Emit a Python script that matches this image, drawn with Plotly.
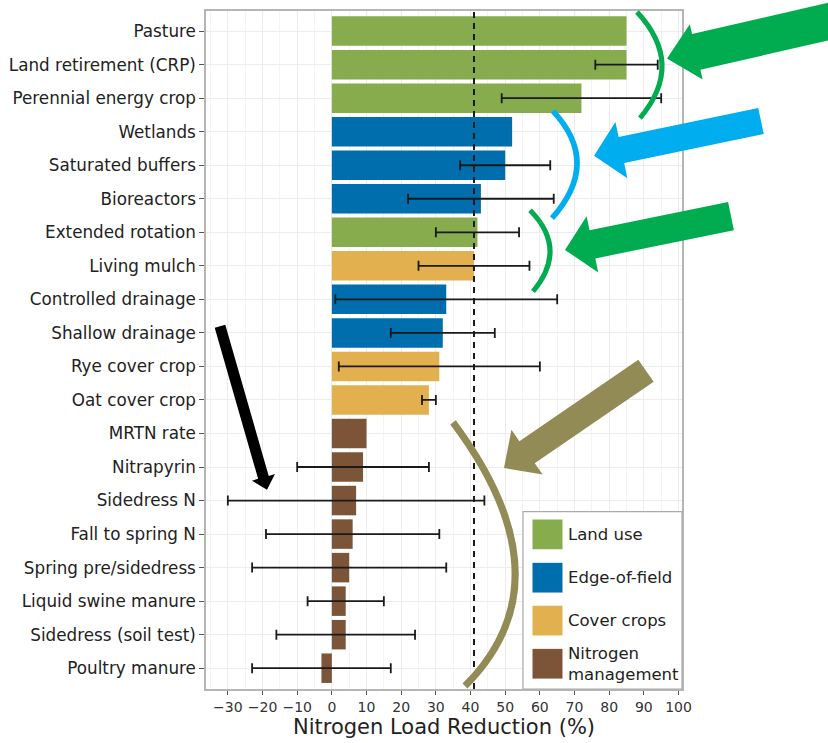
import plotly.graph_objects as go
import math

# ---------------- data ----------------
categories = ["Pasture", "Land retirement (CRP)", "Perennial energy crop", "Wetlands",
              "Saturated buffers", "Bioreactors", "Extended rotation", "Living mulch",
              "Controlled drainage", "Shallow drainage", "Rye cover crop", "Oat cover crop",
              "MRTN rate", "Nitrapyrin", "Sidedress N", "Fall to spring N",
              "Spring pre/sidedress", "Liquid swine manure", "Sidedress (soil test)",
              "Poultry manure"]
values = [85, 85, 72, 52, 50, 43, 42, 41, 33, 32, 31, 28, 10, 9, 7, 6, 5, 4, 4, -3]
err_low = [None, 76, 49, None, 37, 22, 30, 25, 1, 17, 2, 26, None, -10, -30, -19, -23, -7, -16, -23]
err_high = [None, 94, 95, None, 63, 64, 54, 57, 65, 47, 60, 30, None, 28, 44, 31, 33, 15, 24, 17]
groups = ["Land use", "Land use", "Land use", "Edge-of-field", "Edge-of-field", "Edge-of-field",
          "Land use", "Cover crops", "Edge-of-field", "Edge-of-field", "Cover crops", "Cover crops",
          "Nitrogen management", "Nitrogen management", "Nitrogen management", "Nitrogen management",
          "Nitrogen management", "Nitrogen management", "Nitrogen management", "Nitrogen management"]
legend_labels = ["Land use", "Edge-of-field", "Cover crops", "Nitrogen<br>management"]
group_names = ["Land use", "Edge-of-field", "Cover crops", "Nitrogen management"]
target = 41
x_ticks = list(range(-30, 101, 10))

colors = {"Land use": "#86AC4D", "Edge-of-field": "#006EAC",
          "Cover crops": "#E2B04F", "Nitrogen management": "#7C5538"}

FONT = "DejaVu Sans"

fig = go.Figure()
fig.add_trace(go.Bar(
    y=categories, x=values, orientation="h",
    marker=dict(color=[colors[g] for g in groups], line=dict(width=0)),
    showlegend=False, hoverinfo="x+y"))

# error bars only where a range exists
idx = [i for i in range(len(categories)) if err_low[i] is not None]
fig.add_trace(go.Scatter(
    y=[categories[i] for i in idx], x=[values[i] for i in idx], mode="markers",
    marker=dict(size=1, opacity=0),
    error_x=dict(type="data", symmetric=False,
                 array=[err_high[i] - values[i] for i in idx],
                 arrayminus=[values[i] - err_low[i] for i in idx],
                 color="#1a1a1a", thickness=1.8, width=5),
    showlegend=False, hoverinfo="skip"))

W, H = 828, 743
L, R, T, B = 206, 146, 9, 50
pw, ph = W - L - R, H - T - B

def P(X, Y):
    return ((X - L) / pw, 1 - (Y - T) / ph)

def path_from(pts, close=True):
    s = ""
    for i, (X, Y) in enumerate(pts):
        px, py = P(X, Y)
        s += ("M" if i == 0 else "L") + f"{px:.5f},{py:.5f} "
    return s + ("Z" if close else "")

def arrow(tip, tail, shaft_w, head_w, head_l, color):
    dx, dy = tail[0] - tip[0], tail[1] - tip[1]
    n = math.hypot(dx, dy)
    ux, uy = dx / n, dy / n
    nx, ny = -uy, ux
    bx, by = tip[0] + ux * head_l, tip[1] + uy * head_l
    pts = [tip,
           (bx + nx * head_w / 2, by + ny * head_w / 2),
           (bx + nx * shaft_w / 2, by + ny * shaft_w / 2),
           (tail[0] + nx * shaft_w / 2, tail[1] + ny * shaft_w / 2),
           (tail[0] - nx * shaft_w / 2, tail[1] - ny * shaft_w / 2),
           (bx - nx * shaft_w / 2, by - ny * shaft_w / 2),
           (bx - nx * head_w / 2, by - ny * head_w / 2)]
    return dict(type="path", xref="paper", yref="paper", path=path_from(pts),
                fillcolor=color, line=dict(width=0), layer="above")

def arc(s, m, e, color, width):
    cx, cy = 2 * m[0] - (s[0] + e[0]) / 2, 2 * m[1] - (s[1] + e[1]) / 2
    a, b, c = P(*s), P(cx, cy), P(*e)
    p = f"M{a[0]:.5f},{a[1]:.5f} Q{b[0]:.5f},{b[1]:.5f} {c[0]:.5f},{c[1]:.5f}"
    return dict(type="path", xref="paper", yref="paper", path=p,
                line=dict(color=color, width=width), layer="above")

GREEN, BLUE, OLIVE = "#00AC4F", "#00AEEF", "#938B55"

shapes = [
    dict(type="line", xref="x", yref="paper", x0=target, x1=target, y0=0, y1=1,
         line=dict(color="#1a1a1a", width=2, dash="6px,5px"), layer="above"),
    arc((637, 10), (662, 63), (640, 117), GREEN, 5),
    arc((553, 110), (577, 163), (552, 218), BLUE, 5.5),
    arc((530, 210), (550, 250), (533, 292), GREEN, 5),
    arc((453, 424), (515, 570), (465, 690), OLIVE, 7),
    arrow((667, 57), (870, 10), 37, 57, 30, GREEN),
    arrow((594, 155), (761, 120), 27, 58, 28, BLUE),
    arrow((565, 250), (731, 216), 29, 58, 28, GREEN),
    arrow((504, 470), (646, 372), 27, 55, 28, OLIVE),
    arrow((267, 492), (220, 327), 11, 24, 13, "#000000"),
]

# manual legend
lx0, lx1, ly0, ly1 = 523, 682, 514, 693
a0, a1 = P(lx0, ly1), P(lx1, ly0)
shapes.append(dict(type="rect", xref="paper", yref="paper", x0=a0[0], y0=a0[1],
                   x1=a1[0], y1=a1[1], fillcolor="white",
                   line=dict(color="#aaaaaa", width=1.2), layer="above"))
annotations = []
row_y = [537, 580.7, 624, 667.5]
for name, lab, yc in zip(group_names, legend_labels, row_y):
    s0, s1 = P(532.5, yc + 15), P(562.5, yc - 15)
    shapes.append(dict(type="rect", xref="paper", yref="paper", x0=s0[0], y0=s0[1],
                       x1=s1[0], y1=s1[1], fillcolor=colors[name],
                       line=dict(width=0), layer="above"))
    tx, ty = P(566, yc)
    annotations.append(dict(xref="paper", yref="paper", x=tx, y=ty, text=lab,
                            showarrow=False, xanchor="left", yanchor="middle", align="left",
                            font=dict(size=16.5, color="#222222", family=FONT)))

fig.update_layout(
    width=W, height=H, margin=dict(l=L, r=R, t=T, b=B),
    paper_bgcolor="white", plot_bgcolor="white",
    bargap=0.12, showlegend=False,
    font=dict(family=FONT, color="#222222", size=14),
    shapes=shapes, annotations=annotations,
    xaxis=dict(range=[-36.3, 101], tickvals=x_ticks, ticks="outside", ticklen=4,
               tickcolor="#555555", tickfont=dict(size=14, color="#333333"),
               showgrid=True, gridcolor="#ececec", gridwidth=1,
               minor=dict(dtick=5, tick0=0, showgrid=True, gridcolor="#f3f3f3"),
               zeroline=False, showline=True, mirror=True, linecolor="#b5b5b5", linewidth=1.5,
               title=dict(text="Nitrogen Load Reduction (%)", font=dict(size=21, color="#222222"),
                          standoff=5)),
    yaxis=dict(categoryorder="array", categoryarray=categories,
               range=[19.62, -0.6], ticks="outside", ticklen=5, tickcolor="#555555",
               tickfont=dict(size=16.8, color="#222222"),
               showgrid=True, gridcolor="#ececec", zeroline=False,
               showline=True, mirror=True, linecolor="#b5b5b5", linewidth=1.5),
)

fig.write_html("out.html")
